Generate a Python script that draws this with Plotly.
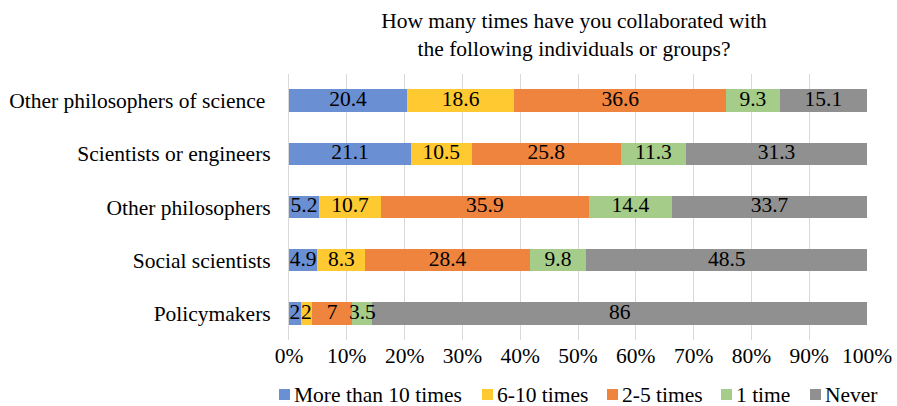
import plotly.graph_objects as go

# Survey groups, listed top to bottom as drawn
groups = [
    "Other philosophers of science\u00a0",
    "Scientists or engineers",
    "Other philosophers",
    "Social scientists",
    "Policymakers",
]

# Response categories (legend order)
responses = ["More than 10 times", "6-10 times", "2-5 times", "1 time", "Never"]

# Percent of respondents per group for each response
more_than_10 = [20.4, 21.1, 5.2, 4.9, 2]
six_to_ten = [18.6, 10.5, 10.7, 8.3, 2]
two_to_five = [36.6, 25.8, 35.9, 28.4, 7]
one_time = [9.3, 11.3, 14.4, 9.8, 3.5]
never = [15.1, 31.3, 33.7, 48.5, 86]

series = [more_than_10, six_to_ten, two_to_five, one_time, never]
colors = ["#6A8FD3", "#FFC931", "#EE843E", "#A6CC8A", "#909090"]

tick_vals = [0, 10, 20, 30, 40, 50, 60, 70, 80, 90, 100]
tick_text = ["0%", "10%", "20%", "30%", "40%", "50%", "60%", "70%", "80%", "90%", "100%"]

FONT = "'Liberation Serif', 'Times New Roman', serif"
FS = 21.5

W, H = 897, 406
ML, MR, MT, MB = 289, 30, 74, 66
PW, PH = W - ML - MR, H - MT - MB


def px_x(px):
    return (px - ML) / PW


def px_y(py):
    return (H - MB - py) / PH


fig = go.Figure()
for name, vals, col in zip(responses, series, colors):
    fig.add_trace(go.Bar(
        y=groups,
        x=vals,
        name=name,
        orientation="h",
        marker=dict(color=col, line=dict(width=0)),
        showlegend=False,
        hovertemplate="%{y}: %{x}<extra>" + name + "</extra>",
    ))

# Value labels centred on each segment, drawn above all bars so that
# narrow segments can spill over their neighbours
row_totals = [sum(col) for col in zip(*series)]
label_x, label_y, label_t = [], [], []
for r, grp in enumerate(groups):
    start = 0.0
    for vals in series:
        share = vals[r] / row_totals[r] * 100
        label_x.append(start + share / 2)
        label_y.append(grp)
        label_t.append(f"{vals[r]:g}")
        start += share
fig.add_trace(go.Scatter(
    x=label_x, y=label_y, text=label_t,
    mode="text", textposition="middle center",
    textfont=dict(family=FONT, size=FS, color="black"),
    cliponaxis=False, hoverinfo="skip", showlegend=False,
))

# Legend row along the bottom: colour swatch followed by its label
legend_x = [279, 482, 607, 721, 810]
shapes, annotations = [], []
for name, col, lx in zip(responses, colors, legend_x):
    shapes.append(dict(
        type="rect", xref="paper", yref="paper",
        x0=px_x(lx), x1=px_x(lx + 11), y0=px_y(400), y1=px_y(389),
        fillcolor=col, line=dict(width=0),
    ))
    annotations.append(dict(
        text=name, xref="paper", yref="paper",
        x=px_x(lx + 13), y=px_y(394.5), xanchor="left", yanchor="middle",
        showarrow=False, font=dict(family=FONT, size=FS, color="black"),
    ))

fig.update_layout(
    barmode="stack",
    barnorm="percent",
    bargap=0.58,
    width=W,
    height=H,
    margin=dict(l=ML, r=MR, t=MT, b=MB, autoexpand=False),
    paper_bgcolor="white",
    plot_bgcolor="white",
    font=dict(family=FONT, size=FS, color="black"),
    showlegend=False,
    title=dict(
        text="How many times have you collaborated with<br>the following individuals or groups?",
        x=574 / W,
        xanchor="center",
        yref="container",
        y=0.93,
        yanchor="top",
        font=dict(family=FONT, size=FS, color="black"),
    ),
    shapes=shapes,
    annotations=annotations,
    xaxis=dict(
        range=[0, 100.0001],
        tickvals=tick_vals,
        ticktext=tick_text,
        showgrid=True,
        gridcolor="#D9D9D9",
        gridwidth=1,
        zeroline=False,
        showline=False,
        ticks="",
        automargin=False,
        tickfont=dict(family=FONT, size=FS, color="black"),
    ),
    yaxis=dict(
        categoryorder="array",
        categoryarray=groups[::-1],
        showline=True,
        linecolor="#D9D9D9",
        linewidth=1,
        ticks="",
        automargin=False,
        ticklabelstandoff=13,
        tickfont=dict(family=FONT, size=FS, color="black"),
    ),
)

fig.write_html("out.html")
